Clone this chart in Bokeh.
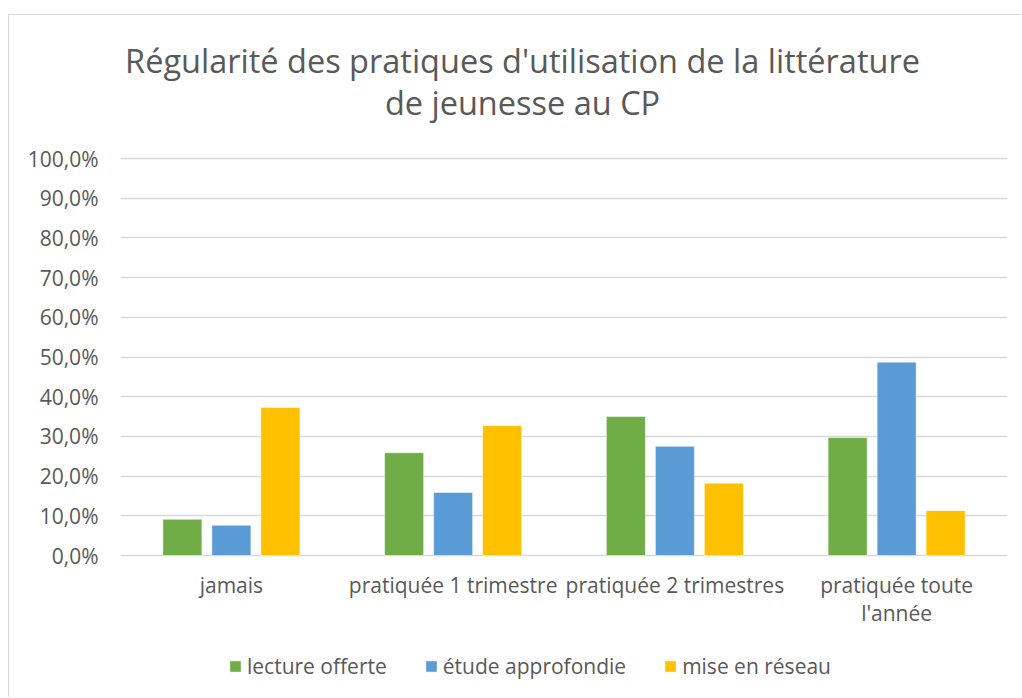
from bokeh.plotting import figure
from bokeh.models import ColumnDataSource, FixedTicker, Legend, LegendItem
from bokeh.core.properties import value
from bokeh.transform import dodge
from bokeh.embed import file_html
from bokeh.resources import INLINE

categories = ["jamais", "pratiquée 1 trimestre", "pratiquée 2 trimestres", "pratiquée toute\nl'année"]
lecture_offerte = [9.1, 25.9, 35.0, 29.7]
etude_approfondie = [7.6, 15.9, 27.5, 48.7]
mise_en_reseau = [37.3, 32.7, 18.2, 11.3]
series_names = ["lecture offerte", "étude approfondie", "mise en réseau"]
series_colors = ["#70AD47", "#5B9BD5", "#FFC000"]
y_ticks = [0, 10, 20, 30, 40, 50, 60, 70, 80, 90, 100]
y_tick_labels = ["0,0%", "10,0%", "20,0%", "30,0%", "40,0%", "50,0%", "60,0%",
                 "70,0%", "80,0%", "90,0%", "100,0%"]
title_lines = ["Régularité des pratiques d'utilisation de la littérature", "de jeunesse au CP"]

FONT = "Open Sans"
TXT = "#595959"
GRID = "#D9D9D9"

# layout constants (pixels inside the canvas)
W, H = 1013, 683
FRAME_LEFT, FRAME_RIGHT = 111, 15
Y0_PX, Y100_PX = 540, 143          # canvas y of 0 % and 100 %
PX_PER_UNIT = (Y0_PX - Y100_PX) / 100.0
y_bottom = -(H - Y0_PX) / PX_PER_UNIT
y_top = 100 + Y100_PX / PX_PER_UNIT

source = ColumnDataSource(dict(cat=categories, a=lecture_offerte, b=etude_approfondie, c=mise_en_reseau))

p = figure(width=W, height=H, x_range=categories, y_range=(y_bottom, y_top),
           output_backend="svg", toolbar_location=None, x_axis_location=None,
           min_border_left=FRAME_LEFT, min_border_right=FRAME_RIGHT,
           min_border_top=0, min_border_bottom=0,
           styles={"margin-left": "8px", "margin-top": "14px",
                   "border-left": "1px solid #D9D9D9", "border-top": "1px solid #D9D9D9"})
p.x_range.range_padding = 0
p.outline_line_color = None
p.background_fill_color = "white"
p.border_fill_color = "white"

renderers = []
for key, off, col in zip(["a", "b", "c"], [-0.221, 0.0, 0.221], series_colors):
    r = p.vbar(x=dodge("cat", off, range=p.x_range), top=key, width=0.176, source=source,
               fill_color=col, line_color="white", line_width=0.5)
    renderers.append(r)

p.yaxis.ticker = FixedTicker(ticks=y_ticks)
p.yaxis.major_label_overrides = {t: l for t, l in zip(y_ticks, y_tick_labels)}
p.yaxis.axis_line_color = None
p.yaxis.major_tick_line_color = None
p.yaxis.minor_tick_line_color = None
p.yaxis.major_tick_out = 0
p.yaxis.major_label_standoff = 22
p.yaxis.major_label_text_font = FONT
p.yaxis.major_label_text_font_size = "21px"
p.yaxis.major_label_text_color = TXT

p.xgrid.grid_line_color = None
p.ygrid.grid_line_color = GRID
p.ygrid.grid_line_width = 1.5

# category labels under the bars
p.text(x="cat", y=-4.0, text="cat", source=source, text_align="center", text_baseline="top",
       text_font=value(FONT), text_font_size="21px", text_color=TXT, text_line_height=1.0)

# title, centred over the whole chart
title_src = ColumnDataSource(dict(x=[1.813, 1.813], y=[100 + (143 - 45) / PX_PER_UNIT,
                                                     100 + (143 - 87) / PX_PER_UNIT],
                                  t=title_lines))
p.text(x="x", y="y", text="t", source=title_src, text_align="center", text_baseline="middle",
       text_font=value(FONT), text_font_size="32.5px", text_color=TXT)

legend = Legend(items=[LegendItem(label=n, renderers=[r]) for n, r in zip(series_names, renderers)],
                orientation="horizontal", location=(108, 18),
                label_text_font=FONT, label_text_font_size="21px", label_text_color=TXT,
                glyph_width=14, glyph_height=14, label_standoff=5, spacing=37,
                padding=0, margin=0, border_line_color=None, background_fill_alpha=0)
p.add_layout(legend, "center")

open("out.html", "w").write(file_html(p, INLINE))
